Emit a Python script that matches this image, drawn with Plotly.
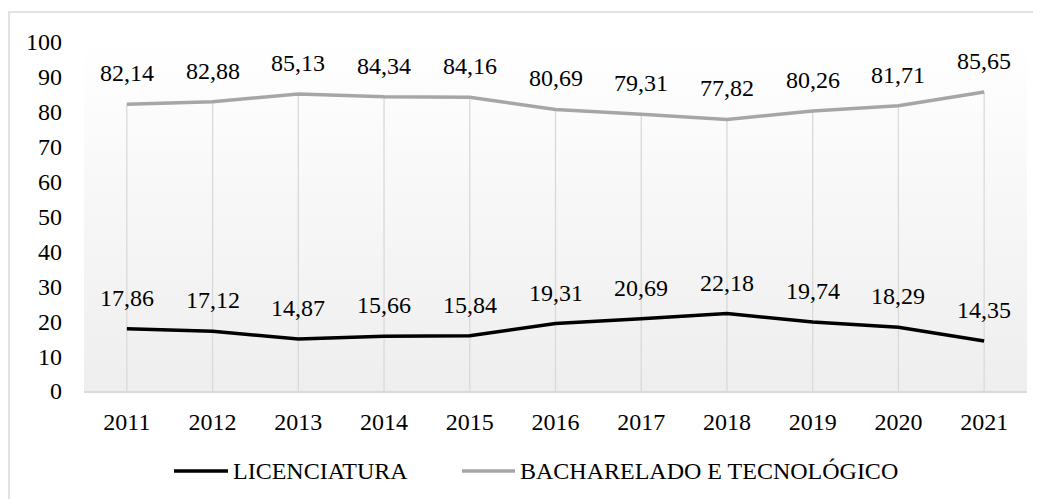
import plotly.graph_objects as go

years = ["2011", "2012", "2013", "2014", "2015", "2016", "2017", "2018", "2019", "2020", "2021"]
licenciatura = [17.86, 17.12, 14.87, 15.66, 15.84, 19.31, 20.69, 22.18, 19.74, 18.29, 14.35]
bacharelado = [82.14, 82.88, 85.13, 84.34, 84.16, 80.69, 79.31, 77.82, 80.26, 81.71, 85.65]
series_names = ["LICENCIATURA", "BACHARELADO E TECNOLÓGICO"]
y_ticks = [0, 10, 20, 30, 40, 50, 60, 70, 80, 90, 100]

FONT = "Liberation Serif, Times New Roman, serif"
FS = 24
OFF = 8  # browser body margin
W, H = 1041 - OFF, 499 - OFF
ML, MT = 84 - OFF, 42 - OFF
MR = W - (1027 - OFF)
MB = H - (391 - OFF)
PW, PH = W - ML - MR, H - MT - MB


def px(xp):
    return (xp - OFF - ML) / PW


def py(yp):
    return (H - MB - (yp - OFF)) / PH


n = len(years)
xi = list(range(n))
fig = go.Figure()

# gradient plot background
fig.add_trace(go.Scatter(
    x=[-0.5, n - 0.5, n - 0.5, -0.5, -0.5], y=[0, 0, 100, 100, 0],
    mode="lines", line=dict(width=0), fill="toself",
    fillgradient=dict(type="vertical", colorscale=[[0, "#eeeeee"], [1, "#ffffff"]]),
    hoverinfo="skip", showlegend=False,
))

# drop lines
dx, dy = [], []
for i, (a, b) in enumerate(zip(licenciatura, bacharelado)):
    dx += [i, i, None]
    dy += [0, max(a, b), None]
fig.add_trace(go.Scatter(x=dx, y=dy, mode="lines", line=dict(color="#d9d9d9", width=1.3),
                         hoverinfo="skip", showlegend=False))

fig.add_trace(go.Scatter(x=xi, y=licenciatura, mode="lines", name=series_names[0],
                         line=dict(color="#000000", width=3.5), showlegend=False))
fig.add_trace(go.Scatter(x=xi, y=bacharelado, mode="lines", name=series_names[1],
                         line=dict(color="#a6a6a6", width=3.5), showlegend=False))

annotations = []
for series in (licenciatura, bacharelado):
    for i, v in enumerate(series):
        annotations.append(dict(x=i, y=v, xref="x", yref="y", text=f"{v:.2f}".replace(".", ","),
                                showarrow=False, yshift=31,
                                font=dict(family=FONT, size=FS, color="#000000")))

# manual legend
leg_y = py(471)
shapes = [
    dict(type="line", xref="paper", yref="paper", x0=px(174), x1=px(228), y0=leg_y, y1=leg_y,
         line=dict(color="#000000", width=3.5)),
    dict(type="line", xref="paper", yref="paper", x0=px(462), x1=px(515), y0=leg_y, y1=leg_y,
         line=dict(color="#a6a6a6", width=3.5)),
    dict(type="rect", xref="paper", yref="paper", x0=px(9), x1=px(1100), y0=py(12), y1=py(560),
         line=dict(color="#d9d9d9", width=1.5), fillcolor="rgba(0,0,0,0)", layer="below"),
]
annotations.append(dict(xref="paper", yref="paper", x=px(231), y=leg_y, xanchor="left", yanchor="middle",
                        text=series_names[0], showarrow=False, font=dict(family=FONT, size=FS, color="#000000")))
annotations.append(dict(xref="paper", yref="paper", x=px(518), y=leg_y, xanchor="left", yanchor="middle",
                        text=series_names[1], showarrow=False, font=dict(family=FONT, size=FS, color="#000000")))

fig.update_layout(
    width=W, height=H,
    margin=dict(l=ML, r=MR, t=MT, b=MB, pad=0),
    paper_bgcolor="#ffffff", plot_bgcolor="rgba(0,0,0,0)",
    font=dict(family=FONT, size=FS, color="#000000"),
    showlegend=False,
    annotations=annotations, shapes=shapes,
    xaxis=dict(range=[-0.5, n - 0.5], tickvals=xi, ticktext=years,
               showgrid=False, showline=True, linecolor="#d9d9d9", linewidth=1.5,
               ticks="", ticklabelstandoff=8, zeroline=False, fixedrange=True),
    yaxis=dict(range=[0, 100], tickvals=y_ticks, showgrid=False, showline=False, zeroline=False,
               ticks="", ticklabelstandoff=21, fixedrange=True),
)

fig.write_html("out.html")
